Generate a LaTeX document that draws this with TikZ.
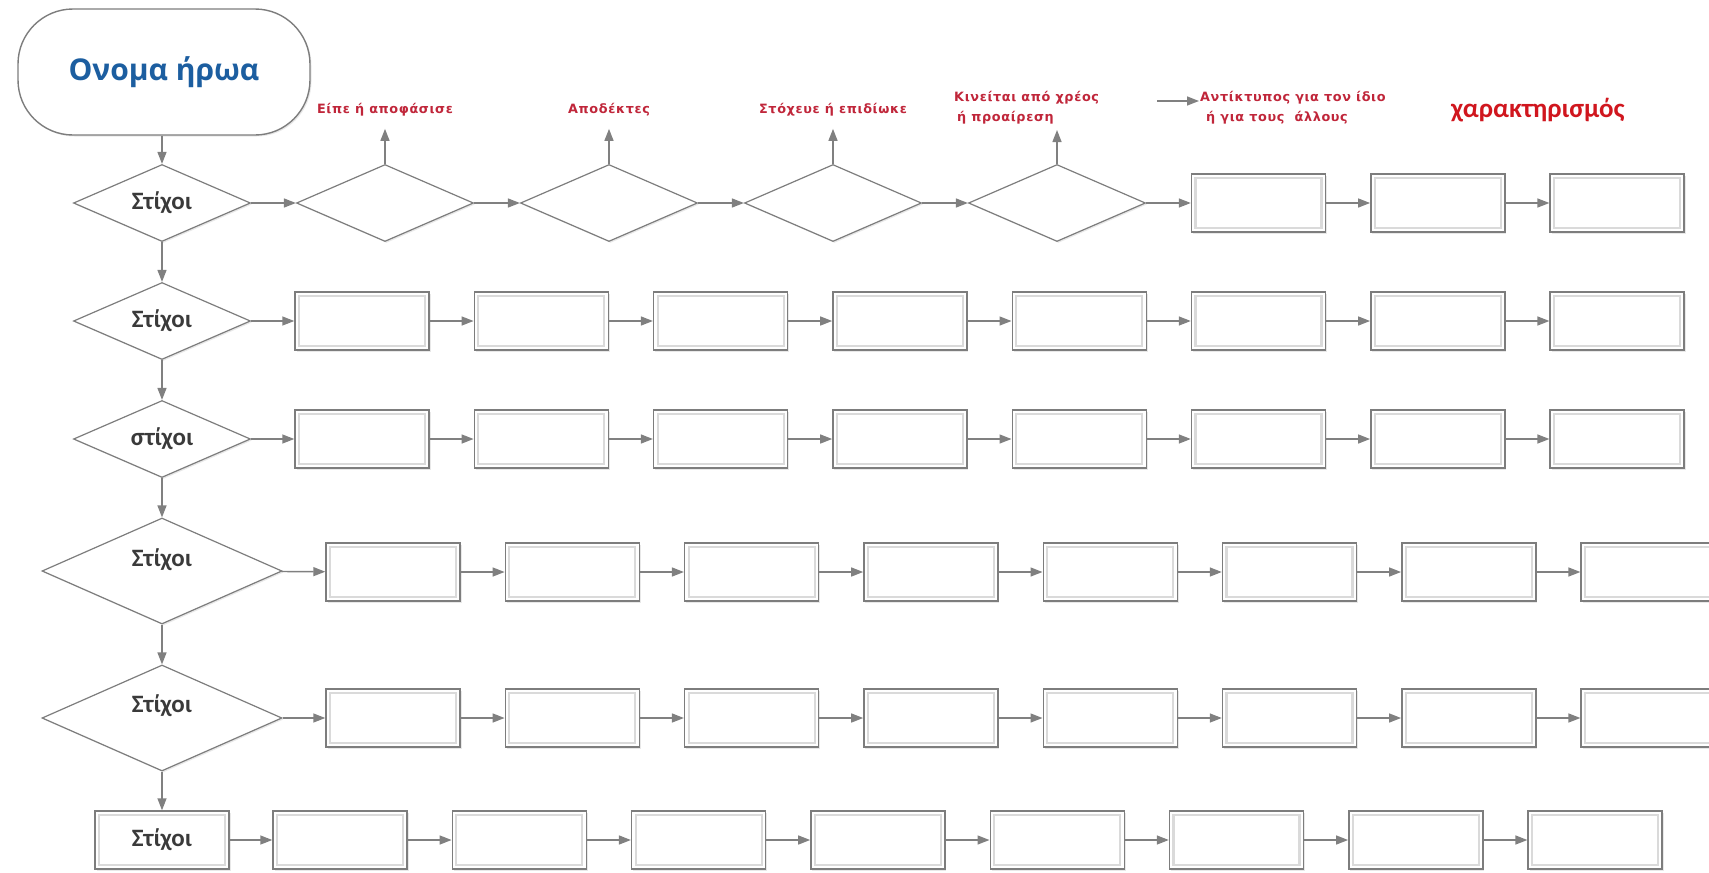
\documentclass[tikz,border=0pt]{standalone}
\usepackage{fontspec}
\setmainfont{Carlito}
\newfontfamily\labfont[LetterSpace=5]{DejaVu Sans}
\newfontfamily\titlefont{Open Sans}
\usetikzlibrary{shapes.geometric,arrows.meta,shadows,calc}
\definecolor{linegray}{RGB}{128,128,128}
\definecolor{bordergray}{RGB}{125,125,125}
\definecolor{innergray}{RGB}{218,218,218}
\definecolor{labred}{RGB}{192,38,58}
\definecolor{charred}{RGB}{208,22,30}
\definecolor{titleblue}{RGB}{28,94,160}
\definecolor{textgray}{RGB}{58,58,58}
\begin{document}
\begin{tikzpicture}[x=1pt,y=-1pt,
  arr/.style={draw=linegray, line width=1.4pt, -{Triangle[length=12pt,width=9pt]}},
  softshadow/.style={drop shadow={opacity=0.18,shadow xshift=1.5pt,shadow yshift=-1.5pt}},
  box/.style={rectangle, draw=bordergray, line width=1.4pt, fill=white,
    minimum width=134pt, minimum height=58pt, inner sep=0pt, softshadow,
    path picture={\draw[innergray,line width=2.2pt]
      ($(path picture bounding box.south west)+(4pt,4pt)$) rectangle
      ($(path picture bounding box.north east)+(-4pt,-4pt)$);}},
  dia/.style={diamond, aspect=2.3, draw=bordergray, line width=1.2pt, fill=white,
    minimum width=177pt, minimum height=77pt, inner sep=0pt, softshadow},
  bigdia/.style={dia, minimum width=240pt, minimum height=106pt},
  stix/.style={font=\bfseries\fontsize{25}{28}\selectfont, text=textgray},
  lab/.style={font=\labfont\bfseries\fontsize{12.8}{20}\selectfont, text=labred, inner sep=1pt},
  titlebox/.style={rectangle, rounded corners=55pt, draw=bordergray, line width=1.4pt,
    fill=white, minimum width=292pt, minimum height=126pt, softshadow,
    font=\titlefont\bfseries\fontsize{30}{33}\selectfont, text=titleblue}
]
\useasboundingbox (0,0) rectangle (1709,873);
\clip (0,0) rectangle (1709,873);

% left column
\node[titlebox] (title) at (164,72) {Ονομα ήρωα};
\node[dia, stix] (s1) at (162,203) {Στίχοι};
\node[dia, stix] (s2) at (162,321) {Στίχοι};
\node[dia, stix] (s3) at (162,439) {στίχοι};
\node[bigdia, label={[stix, yshift=11pt]center:Στίχοι}] (s4) at (162,571) {};
\node[bigdia, label={[stix, yshift=12pt]center:Στίχοι}] (s5) at (162,718) {};
\node[box, stix] (s6) at (162,840) {Στίχοι};

\draw[arr] (title.south -| s1) -- (s1);
\draw[arr] (s1) -- (s2);
\draw[arr] (s2) -- (s3);
\draw[arr] (s3) -- (s4);
\draw[arr] (s4) -- (s5);
\draw[arr] (s5) -- (s6);

% row 1
\foreach \k/\x in {1/385,2/609,3/833,4/1057}
  \node[dia] (d\k) at (\x,203) {};
\foreach \k in {5,6,7}
  \node[box] (b1-\k) at ({362+179.3*\k},203) {};
\draw[arr] (s1) -- (d1);
\draw[arr] (d1) -- (d2);
\draw[arr] (d2) -- (d3);
\draw[arr] (d3) -- (d4);
\draw[arr] (d4) -- (b1-5);
\draw[arr] (b1-5) -- (b1-6);
\draw[arr] (b1-6) -- (b1-7);

% labels of row 1
\node[lab, anchor=base] (lab1) at (385,113) {Είπε ή αποφάσισε};
\node[lab, anchor=base] (lab2) at (609,113) {Αποδέκτες};
\node[lab, anchor=base] (lab3) at (833,113) {Στόχευε ή επιδίωκε};
\node[lab, anchor=south west, align=left] (lab4) at (953,125)
  {Κινείται από χρέος\\\hspace{3pt}ή προαίρεση};
\node[lab, anchor=south west, align=left] (lab5) at (1199,125)
  {Αντίκτυπος για τον ίδιο\\\hspace{6pt}ή για τους\ \ άλλους};
\node[font=\bfseries\fontsize{27}{30}\selectfont, text=charred, anchor=base west, inner sep=0pt]
  (lab6) at (1451,117) {χαρακτηρισμός};
\draw[arr] (d1.north) -- ([yshift=-12pt]lab1.south);
\draw[arr] (d2.north) -- ([yshift=-12pt]lab2.south);
\draw[arr] (d3.north) -- ([yshift=-12pt]lab3.south);
\draw[arr] (d4.north) -- ([yshift=-5pt]d4.north |- lab4.south);
\coordinate (a5) at (1157,101);
\draw[arr] (a5) -- (a5 -| lab5.west);

% rows 2 and 3
\foreach \r/\y in {2/321,3/439} {
  \foreach \k in {0,...,7}
    \node[box] (b\r-\k) at ({362+179.3*\k},\y) {};
  \draw[arr] (s\r) -- (b\r-0);
  \foreach \k [evaluate=\k as \j using int(\k+1)] in {0,...,6}
    \draw[arr] (b\r-\k) -- (b\r-\j);
}

% rows 4 and 5
\foreach \r/\y in {4/572,5/718} {
  \foreach \k in {0,...,7}
    \node[box] (b\r-\k) at ({393+179.3*\k},\y) {};
  \draw[arr] (s\r) -- (b\r-0);
  \foreach \k [evaluate=\k as \j using int(\k+1)] in {0,...,6}
    \draw[arr] (b\r-\k) -- (b\r-\j);
}

% row 6
\foreach \k in {0,...,7}
  \node[box] (b6-\k) at ({340+179.3*\k},840) {};
\draw[arr] (s6) -- (b6-0);
\foreach \k [evaluate=\k as \j using int(\k+1)] in {0,...,6}
  \draw[arr] (b6-\k) -- (b6-\j);
\end{tikzpicture}
\end{document}
